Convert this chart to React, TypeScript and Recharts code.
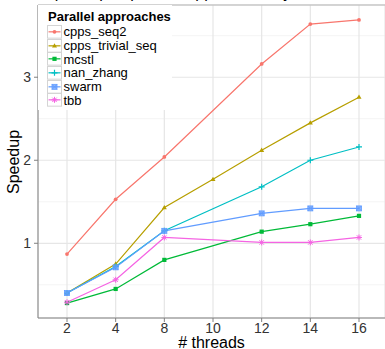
import React from 'react';
import {
    LineChart, Line, XAxis, YAxis, CartesianGrid, Legend, ReferenceLine
} from 'recharts';

// thread counts on the x axis (discrete)
const THREADS = ['2', '4', '8', '10', '12', '14', '16'];

// speedup per approach, null where nothing was measured
const CPPS_SEQ2 = [0.87, 1.53, 2.04, null, 3.16, 3.64, 3.69];
const CPPS_TRIVIAL_SEQ = [0.40, 0.75, 1.43, 1.77, 2.12, 2.45, 2.76];
const MCSTL = [0.28, 0.45, 0.80, null, 1.14, 1.23, 1.33];
const NAN_ZHANG = [0.40, 0.72, 1.15, null, 1.68, 2.00, 2.16];
const SWARM = [0.40, 0.71, 1.15, null, 1.36, 1.42, 1.42];
const TBB = [0.29, 0.56, 1.07, null, 1.01, 1.01, 1.07];

const Y_TICKS = [1, 2, 3];
const Y_MINOR = [0.5, 1.5, 2.5, 3.5];
const Y_DOMAIN: [number, number] = [0.1, 3.87];

type Shape = 'circle' | 'triangle' | 'square' | 'plus' | 'boxx' | 'star';

const SERIES: { key: string; values: (number | null)[]; color: string; shape: Shape }[] = [
    { key: 'cpps_seq2', values: CPPS_SEQ2, color: '#F8766D', shape: 'circle' },
    { key: 'cpps_trivial_seq', values: CPPS_TRIVIAL_SEQ, color: '#B79F00', shape: 'triangle' },
    { key: 'mcstl', values: MCSTL, color: '#00BA38', shape: 'square' },
    { key: 'nan_zhang', values: NAN_ZHANG, color: '#00BFC4', shape: 'plus' },
    { key: 'swarm', values: SWARM, color: '#619CFF', shape: 'boxx' },
    { key: 'tbb', values: TBB, color: '#F564E3', shape: 'star' },
];

const data = THREADS.map((t, i) => {
    const row: any = { threads: t };
    SERIES.forEach(s => { row[s.key] = s.values[i]; });
    return row;
});

const FONT = '"Liberation Sans", Arial, sans-serif';

const Marker = ({ shape, color, cx, cy }: { shape: Shape; color: string; cx: number; cy: number }) => {
    switch (shape) {
        case 'circle':
            return <circle cx={cx} cy={cy} r={1.9} fill={color} />;
        case 'triangle':
            return <polygon points={`${cx},${cy - 2.7} ${cx - 2.5},${cy + 1.6} ${cx + 2.5},${cy + 1.6}`} fill={color} />;
        case 'square':
            return <rect x={cx - 2.1} y={cy - 2.1} width={4.2} height={4.2} fill={color} />;
        case 'plus':
            return <path d={`M${cx - 3},${cy}H${cx + 3}M${cx},${cy - 3}V${cy + 3}`} stroke={color} strokeWidth={1.2} fill="none" />;
        case 'boxx':
            return (
                <g>
                    <rect x={cx - 2.5} y={cy - 2.5} width={5} height={5} fill={color} fillOpacity={0.75} stroke={color} strokeWidth={0.8} />
                    <path d={`M${cx - 2.5},${cy - 2.5}L${cx + 2.5},${cy + 2.5}M${cx + 2.5},${cy - 2.5}L${cx - 2.5},${cy + 2.5}`} stroke={color} strokeWidth={0.8} />
                </g>
            );
        case 'star':
            return (
                <path
                    d={`M${cx - 3},${cy}H${cx + 3}M${cx},${cy - 3}V${cy + 3}M${cx - 2.2},${cy - 2.2}L${cx + 2.2},${cy + 2.2}M${cx + 2.2},${cy - 2.2}L${cx - 2.2},${cy + 2.2}`}
                    stroke={color} strokeWidth={1} fill="none"
                />
            );
    }
    return null;
};

const LegendBox = () => (
    <div style={{ background: '#fff', width: 134, height: 105, fontFamily: FONT, color: '#000' }}>
        <div style={{ fontWeight: 'bold', fontSize: 13, lineHeight: '17px', paddingTop: 3, paddingLeft: 10 }}>
            Parallel approaches
        </div>
        {SERIES.map(s => (
            <div key={s.key} style={{ display: 'flex', alignItems: 'center', height: 13.66, paddingLeft: 9 }}>
                <svg width={15} height={13.66} style={{ display: 'block' }}>
                    <rect x={0.5} y={0.5} width={14} height={12.66} fill="#fff" stroke="#d4d4d4" strokeWidth={1} />
                    <line x1={1.5} x2={13.5} y1={6.83} y2={6.83} stroke={s.color} strokeWidth={1.2} />
                    <Marker shape={s.shape} color={s.color} cx={7.5} cy={6.83} />
                </svg>
                <span style={{ fontSize: 13, marginLeft: 1.5, lineHeight: '13px' }}>{s.key}</span>
            </div>
        ))}
    </div>
);

const YTitle = () => (
    <text x={18.5} y={162} transform="rotate(-90, 18.5, 162)" textAnchor="middle" fontSize={16} fill="#000" fontFamily={FONT}>
        Speedup
    </text>
);

export default function App() {
    return (
        <div style={{ position: 'fixed', left: 0, top: 0, width: 385, height: 349, overflow: 'hidden', background: '#fff', fontFamily: FONT }}>
            {/* title sits mostly above the visible area, as in the source image */}
            <div style={{ position: 'absolute', left: 44, top: -15.5, fontSize: 16, lineHeight: '16px', whiteSpace: 'nowrap', color: '#000' }}>
                Speedup of parallel approaches by number of threads (n = 10^8)
            </div>
            <LineChart width={385} height={349} data={data} margin={{ top: 5, right: 0, bottom: 0, left: 0 }}>
                <CartesianGrid horizontalValues={Y_MINOR} vertical={false} stroke="#f4f4f4" strokeWidth={1} />
                <CartesianGrid stroke="#e6e6e6" strokeWidth={1.2} />
                <ReferenceLine y={Y_DOMAIN[1]} stroke="#b5b5b5" strokeWidth={1} />
                <XAxis
                    dataKey="threads"
                    type="category"
                    padding={{ left: 29, right: 26 }}
                    height={31}
                    tickSize={4}
                    tickMargin={1}
                    tick={{ fontSize: 14, fill: '#333', fontFamily: FONT }}
                    tickLine={{ stroke: '#808080' }}
                    axisLine={{ stroke: '#808080' }}
                    label={{ value: '# threads', position: 'insideBottom', offset: 1.5, fontSize: 16, fill: '#000', fontFamily: FONT }}
                />
                <YAxis
                    type="number"
                    domain={Y_DOMAIN}
                    ticks={Y_TICKS}
                    allowDataOverflow
                    width={38}
                    tickSize={4}
                    tickMargin={3}
                    tick={{ fontSize: 14, fill: '#333', fontFamily: FONT }}
                    tickLine={{ stroke: '#808080' }}
                    axisLine={{ stroke: '#808080' }}
                    label={<YTitle />}
                />
                {SERIES.map(s => (
                    <Line
                        key={s.key}
                        dataKey={s.key}
                        type="linear"
                        stroke={s.color}
                        strokeWidth={1.2}
                        connectNulls
                        isAnimationActive={false}
                        activeDot={false}
                        dot={(p: any) =>
                            p.value == null || p.cx == null
                                ? <g key={`${s.key}-${p.index}`} />
                                : <g key={`${s.key}-${p.index}`}><Marker shape={s.shape} color={s.color} cx={p.cx} cy={p.cy} /></g>
                        }
                    />
                ))}
                <Legend
                    layout="vertical"
                    align="center"
                    verticalAlign="middle"
                    content={<LegendBox />}
                    wrapperStyle={{ left: 38, top: 5, width: 134 }}
                />
            </LineChart>
        </div>
    );
}
